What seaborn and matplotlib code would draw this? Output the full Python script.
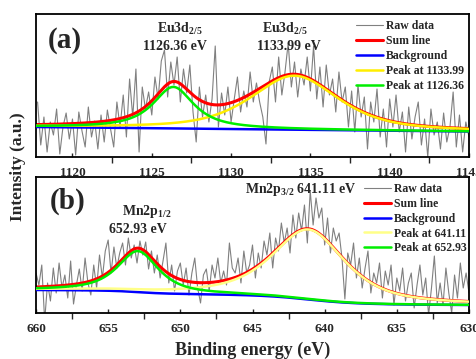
import numpy as np
import pandas as pd
import matplotlib
matplotlib.use("Agg")
import matplotlib.pyplot as plt
import seaborn as sns
from matplotlib.ticker import MultipleLocator

sns.set_style("ticks")
plt.rcParams['font.family'] = ['Liberation Serif', 'DejaVu Serif']
plt.rcParams['font.weight'] = 'bold'
plt.rcParams['mathtext.fontset'] = 'custom'
plt.rcParams['mathtext.rm'] = 'Liberation Serif:bold'
plt.rcParams['mathtext.bf'] = 'Liberation Serif:bold'
plt.rcParams['mathtext.it'] = 'Liberation Serif:bold'

# ---------------- Panel (a): Eu 3d ----------------
eu_start, eu_step = 1117.8, 0.2
eu_raw = [55, 12, 40, 5, 35, 22, 48, 3, 30, 44,
          18, 38, 2, 45, 26, 10, 50, 20, 36, 8,
          42, 15, 47, 28, 10, 55, 30, 62, 20, 78,
          40, 88, 5, 70, 48, 65, 42, 80, 58, 96,
          107, 60, 95, 72, 100, 55, 88, 64, 92, 45,
          15, 70, 40, 62, 35, 58, 111, 30, 64, 42,
          70, 35, 58, 80, 45, 66, 50, 85, 55, 74,
          55, 40, 13, 75, 90, 55, 100, 62, 85, 114,
          70, 95, 60, 88, 72, 100, 66, 111, 58, 90,
          50, 92, 62, 78, 45, 85, 55, 70, 30, 66,
          25, 72, 40, 60, 8, 55, 35, 68, 20, 48,
          10, 58, 30, 62, 25, 45, 5, 50, 18, 40,
          55, 12, 38, 0, 48, 22, 35, 8, 44, 15,
          30, 65, 10, 42, 5, 35, 20]
eu_xlim = (1117.7, 1145.0)
eu_ylim = (0, 143)
eu_centers = [1126.36, 1133.99]
eu_heights = [41.5, 54.0]
eu_fwhm = [3.1, 6.5]
eu_lorentz = [0.9, 0.6]
eu_bg_ends = [30.0, 25.5]          # background at low / high BE limit
eu_peak_labels = ["Peak at 1126.36", "Peak at 1133.99"]

# ---------------- Panel (b): Mn 2p ----------------
mn_start, mn_step = 660.0, -0.2
mn_raw = [40, 28, 48, -8, 30, 12, 45, 20, 50, 25,
          38, 15, 52, 9, 28, 44, 22, 55, 30, 18,
          48, 25, 58, 35, 62, 73, 40, 66, 45, 60,
          70, 48, 75, 55, 68, 50, 72, 58, 71, 44,
          62, 40, 58, 35, 52, 70, 30, 48, 22, 42,
          50, 28, 45, 18, 40, 55, 25, 10, 38, 44,
          22, 48, 35, 55, 30, 42, 28, 70, 45, 40,
          55, 30, 62, 40, 48, 68, 35, 60, 45, 72,
          58, 80, 45, 75, 62, 90, 70, 85, 60, 98,
          75, 100, 82, 108, 70, 122, 88, 115, 95, 105,
          68, 95, 60, 85, 72, 80, 55, 14, 60, 48,
          70, 35, 55, 25, 45, 62, 20, 40, 30, 50,
          15, 42, 28, 48, 8, 35, 22, 45, 12, 30,
          40, 5, 28, 48, 18, 35, -2, 25, 57, 10,
          30, 8, 45, 20, 0, 38, 15, 50, 25, 40,
          20]
mn_xlim = (660, 630)
mn_ylim = (0, 136)
mn_centers = [652.93, 641.11]
mn_heights = [41.0, 70.0]
mn_fwhm = [3.4, 6.0]
mn_lorentz = [0.8, 0.7]
mn_bg_ends = [8.0, 23.0]           # background at low / high BE limit (Shirley)
mn_peak_labels = ["Peak at 652.93", "Peak at 641.11"]


def pseudo_voigt(x, c, h, f, eta):
    u = (x - c) / (f / 2.0)
    return h * (eta / (1.0 + u ** 2) + (1 - eta) * np.exp(-np.log(2) * u ** 2))


fig = plt.figure(figsize=(4.76, 3.59), dpi=100)
ax_a = fig.add_axes([36 / 476, 1 - 157 / 359, 433 / 476, 143 / 359])
ax_b = fig.add_axes([36 / 476, 1 - 313 / 359, 433 / 476, 136 / 359])

RAW_C = '#808080'
RED = '#ff0000'
BLUE = '#0000ff'
GREEN = '#00ee00'


def draw(ax, energy, raw, grid, bg, p_low_label, p_low, p_high_label, p_high, yellow):
    sns.lineplot(x=energy, y=raw, ax=ax, color=RAW_C, lw=0.8, label="Raw data",
                 zorder=1, sort=False)
    sns.lineplot(x=grid, y=bg + p_low + p_high, ax=ax, color=RED, lw=2.2,
                 label="Sum line", zorder=2)
    sns.lineplot(x=grid, y=bg, ax=ax, color=BLUE, lw=1.8, label="Background", zorder=3)
    sns.lineplot(x=grid, y=bg + p_high, ax=ax, color=yellow, lw=1.8,
                 label=p_high_label, zorder=4)
    sns.lineplot(x=grid, y=bg + p_low, ax=ax, color=GREEN, lw=1.8,
                 label=p_low_label, zorder=5)


# ---- panel a
eu_energy = np.round(eu_start + eu_step * np.arange(len(eu_raw)), 2)
grid_a = np.linspace(eu_xlim[0], eu_xlim[1], 600)
bg_a = eu_bg_ends[0] + (eu_bg_ends[1] - eu_bg_ends[0]) * (grid_a - grid_a[0]) / (grid_a[-1] - grid_a[0])
pa1 = pseudo_voigt(grid_a, eu_centers[0], eu_heights[0], eu_fwhm[0], eu_lorentz[0])
pa2 = pseudo_voigt(grid_a, eu_centers[1], eu_heights[1], eu_fwhm[1], eu_lorentz[1])
draw(ax_a, eu_energy, eu_raw, grid_a, bg_a, eu_peak_labels[0], pa1,
     eu_peak_labels[1], pa2, '#ffee00')

# ---- panel b
mn_energy = np.round(mn_start + mn_step * np.arange(len(mn_raw)), 2)
grid_b = np.linspace(630, 660, 600)
pb1 = pseudo_voigt(grid_b, mn_centers[0], mn_heights[0], mn_fwhm[0], mn_lorentz[0])
pb2 = pseudo_voigt(grid_b, mn_centers[1], mn_heights[1], mn_fwhm[1], mn_lorentz[1])
cum = np.cumsum(pb1 + pb2)
bg_b = mn_bg_ends[0] + (mn_bg_ends[1] - mn_bg_ends[0]) * cum / cum[-1]
draw(ax_b, mn_energy, mn_raw, grid_b, bg_b, mn_peak_labels[0], pb1,
     mn_peak_labels[1], pb2, '#ffff88')

for ax, xl, yl in [(ax_a, eu_xlim, eu_ylim), (ax_b, mn_xlim, mn_ylim)]:
    ax.set_xlim(*xl)
    ax.set_ylim(*yl)
    ax.xaxis.set_major_locator(MultipleLocator(5))
    ax.xaxis.set_minor_locator(MultipleLocator(2.5))
    ax.set_yticks([])
    ax.set_ylabel("")
    ax.set_xlabel("")
    for s in ax.spines.values():
        s.set_linewidth(1.3)
        s.set_color('black')
    ax.tick_params(axis='x', which='major', direction='in', length=3, width=1.0,
                   labelsize=9.5, pad=7, top=False)
    ax.tick_params(axis='x', which='minor', direction='out', length=4, width=1.0, top=False)
    for lab in ax.get_xticklabels():
        lab.set_fontweight('bold')

# legends
leg_kw = dict(loc='upper left', frameon=False, borderpad=0, borderaxespad=0,
              handlelength=2.3, handletextpad=0.25, labelspacing=0.24,
              prop={'family': 'Liberation Serif', 'weight': 'bold', 'size': 8.5})
ax_a.legend(bbox_to_anchor=(0.739, 0.955), **leg_kw)
ax_b.legend(bbox_to_anchor=(0.757, 0.955), **leg_kw)

# annotations
fs = 10
ax_a.text(0.067, 0.818, "(a)", transform=ax_a.transAxes, fontsize=21, fontweight='bold',
          ha='center', va='center')
ax_a.text(0.333, 0.867, r"Eu3d$_{2/5}$", transform=ax_a.transAxes, fontsize=fs,
          fontweight='bold', ha='center', va='baseline')
ax_a.text(0.321, 0.748, "1126.36 eV", transform=ax_a.transAxes, fontsize=fs,
          fontweight='bold', ha='center', va='baseline')
ax_a.text(0.575, 0.867, r"Eu3d$_{2/5}$", transform=ax_a.transAxes, fontsize=fs,
          fontweight='bold', ha='center', va='baseline')
ax_a.text(0.584, 0.748, "1133.99 eV", transform=ax_a.transAxes, fontsize=fs,
          fontweight='bold', ha='center', va='baseline')

ax_b.text(0.072, 0.824, "(b)", transform=ax_b.transAxes, fontsize=21, fontweight='bold',
          ha='center', va='center')
ax_b.text(0.256, 0.72, r"Mn2p$_{1/2}$", transform=ax_b.transAxes, fontsize=fs,
          fontweight='bold', ha='center', va='baseline')
ax_b.text(0.236, 0.588, "652.93 eV", transform=ax_b.transAxes, fontsize=fs,
          fontweight='bold', ha='center', va='baseline')
ax_b.text(0.612, 0.882, r"Mn2p$_{3/2}$ 641.11 eV", transform=ax_b.transAxes, fontsize=fs,
          fontweight='bold', ha='center', va='baseline', zorder=10)

ax_b.set_xlabel("Binding energy (eV)", fontsize=13, fontweight='bold', labelpad=5)
fig.text(18 / 476, 1 - 167 / 359, "Intensity (a.u.)", rotation=90, fontsize=12.5,
         fontweight='bold', ha='center', va='center')

fig.savefig("out.png", dpi=100)
